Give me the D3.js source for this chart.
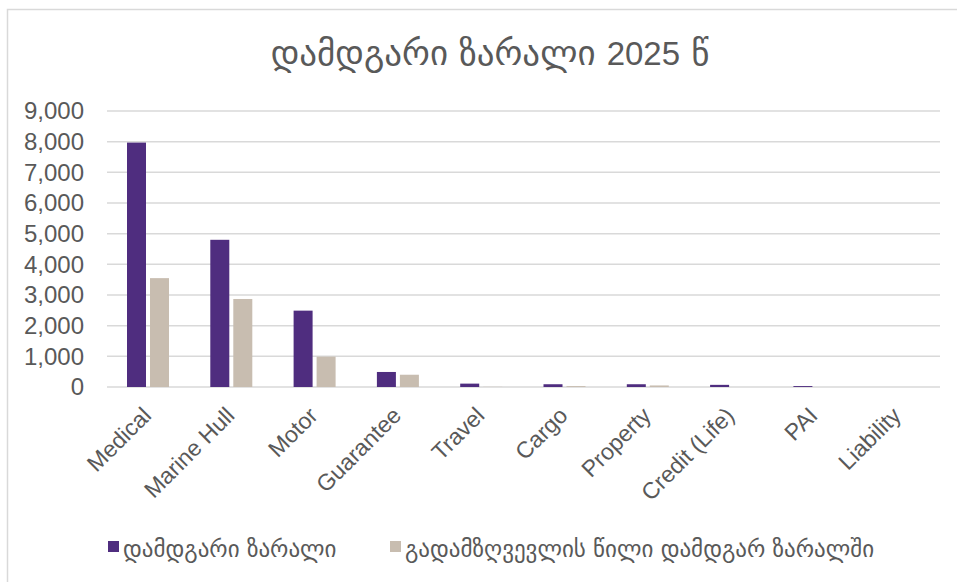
<!DOCTYPE html>
<html>
<head>
<meta charset="utf-8">
<script src="https://cdn.jsdelivr.net/npm/d3@7"></script>
<style>
  body { margin: 0; background: #fff; }
  svg { display: block; }
</style>
</head>
<body>
<svg id="chart" width="957" height="582"></svg>
<script>
// data
const categories = ["Medical", "Marine Hull", "Motor", "Guarantee", "Travel", "Cargo", "Property", "Credit (Life)", "PAI", "Liability"];
const incurredLoss = [7970, 4800, 2490, 490, 110, 90, 90, 70, 30, 0];
const reinsurerShare = [3550, 2870, 990, 400, 5, 30, 50, 0, 0, 0];
const yTicks = [0, 1000, 2000, 3000, 4000, 5000, 6000, 7000, 8000, 9000];
const seriesNames = ["დამდგარი ზარალი", "გადამზღვევლის წილი დამდგარ ზარალში"];
const seriesColors = ["#4f2d7f", "#c8bdb0"];
const titleParts = ["დამდგარი ზარალი ", "2025", " წ"];

const font = "'Liberation Sans', Arial, sans-serif",
    geoFont = "'DejaVu Sans', sans-serif";
const textColor = "#595959";

var svg = d3.select("#chart"),
    margin = { left: 107, right: 17, top: 111, bottom: 195 },
    width = 957 - margin.left - margin.right,
    height = 582 - margin.top - margin.bottom;

// outer frame
svg.append("rect")
    .attr("x", 7.5).attr("y", 9.5)
    .attr("width", 1000).attr("height", 1000)
    .attr("fill", "none")
    .attr("stroke", "#d9d9d9").attr("stroke-width", 1.5);

// title - georgian part in a font that has the glyphs, digits in arial
var _title = svg.append("text")
    .attr("x", 490).attr("y", 65)
    .attr("text-anchor", "middle")
    .attr("fill", textColor);
titleParts.forEach(function (t, i) {
    _title.append("tspan")
        .style("font-family", i == 1 ? font : geoFont)
        .style("font-size", i == 1 ? "33px" : "35px")
        .style("white-space", "pre")
        .text(t);
});

var g = svg.append("g").attr("transform", "translate(" + margin.left + "," + margin.top + ")");

var x0 = d3.scaleBand().domain(categories).range([0, width]);
var x1 = d3.scaleBand().domain([0, 1]).range([20, 62]).paddingInner(0.174);
var y = d3.scaleLinear().domain([0, 9000]).range([height, 0]);

// gridlines
g.append("g").selectAll("line")
    .data(yTicks).enter().append("line")
    .attr("x1", 0).attr("x2", width)
    .attr("y1", d => y(d)).attr("y2", d => y(d))
    .attr("stroke", "#d9d9d9").attr("stroke-width", 1.5);

// y axis labels
var yAxis = d3.axisLeft(y).tickValues(yTicks).tickFormat(d3.format(",")).tickSize(0).tickPadding(23);
g.append("g").call(yAxis)
    .call(a => a.select(".domain").remove())
    .selectAll("text")
    .attr("fill", textColor)
    .style("font-family", font).style("font-size", "24px");

// bars
var groups = g.append("g").selectAll("g")
    .data(categories).enter().append("g")
    .attr("transform", d => "translate(" + x0(d) + ",0)");

groups.selectAll("rect")
    .data((d, i) => [incurredLoss[i], reinsurerShare[i]])
    .enter().append("rect")
    .attr("x", (d, j) => x1(j))
    .attr("width", x1.bandwidth())
    .attr("y", d => y(d))
    .attr("height", d => height - y(d))
    .attr("fill", (d, j) => seriesColors[j]);

// x axis labels, rotated
var xAxis = d3.axisBottom(x0).tickSize(0).tickPadding(0);
g.append("g").attr("transform", "translate(0," + height + ")")
    .call(xAxis)
    .call(a => a.select(".domain").remove())
    .selectAll("text")
    .attr("fill", textColor)
    .style("font-family", font).style("font-size", "23px")
    .attr("text-anchor", "end")
    .attr("dy", 0)
    .attr("transform", "translate(4,30) rotate(-45)");

// legend
var legend = svg.append("g").attr("transform", "translate(108,541)");
var lx = [0, 282];
seriesNames.forEach(function (name, i) {
    var lg = legend.append("g").attr("transform", "translate(" + lx[i] + ",0)");
    lg.append("rect")
        .attr("x", 0).attr("y", 0)
        .attr("width", 11).attr("height", 11)
        .attr("fill", seriesColors[i]);
    lg.append("text")
        .attr("x", 15).attr("y", 16)
        .attr("fill", textColor)
        .style("font-family", geoFont).style("font-size", "23px")
        .text(name);
});
</script>
</body>
</html>
